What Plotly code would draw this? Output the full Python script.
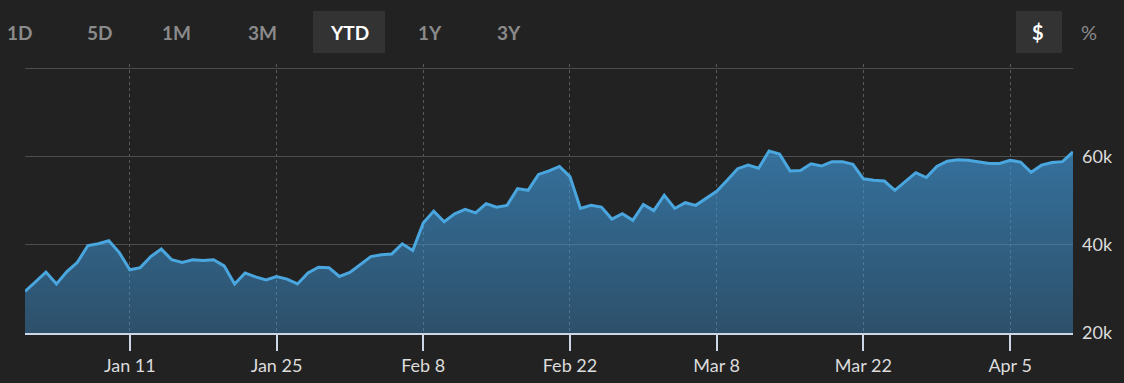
import plotly.graph_objects as go
import pandas as pd

# ---- data ----
dates = pd.date_range("2021-01-01", "2021-04-11", freq="D")
values_k = [
    29.4, 31.7, 33.8, 31.1, 33.9, 36.0, 39.8, 40.2, 40.9, 38.2,  # Jan 1-10
    34.3, 34.8, 37.3, 39.0, 36.6, 36.0, 36.6, 36.4, 36.6, 35.2,  # Jan 11-20
    31.1, 33.6, 32.7, 32.0, 32.8, 32.2, 31.1, 33.6, 34.9, 34.8,  # Jan 21-30
    32.8,                                                        # Jan 31
    33.7, 35.6, 37.3, 37.7, 37.9, 40.2, 38.7, 44.9, 47.6, 45.2,  # Feb 1-10
    47.0, 48.0, 47.2, 49.3, 48.5, 48.9, 52.7, 52.3, 55.9, 56.7,  # Feb 11-20
    57.7, 55.4, 48.2, 48.9, 48.5, 45.8, 47.0, 45.5,              # Feb 21-28
    49.1, 47.7, 51.2, 48.2, 49.5, 48.9, 50.4, 52.1, 54.6, 57.2,  # Mar 1-10
    58.0, 57.3, 61.2, 60.5, 56.7, 56.8, 58.3, 57.8, 58.8, 58.8,  # Mar 11-20
    58.2, 54.9, 54.6, 54.4, 52.3, 54.3, 56.3, 55.2, 57.7, 58.9,  # Mar 21-30
    59.2,                                                        # Mar 31
    59.1, 58.8, 58.4, 58.4, 59.1, 58.7, 56.4, 58.0, 58.6, 58.8,  # Apr 1-10
    61.0,                                                        # Apr 11
]
values = [v * 1000 for v in values_k]

x_tick_dates = pd.date_range("2021-01-11", "2021-04-05", freq="14D")
x_tick_labels = ["Jan 11", "Jan 25", "Feb 8", "Feb 22", "Mar 8", "Mar 22", "Apr 5"]
y_tick_vals = [20000, 40000, 60000, 80000]
y_tick_labels = ["20k", "40k", "60k", ""]

range_buttons = ["1D", "5D", "1M", "3M", "YTD", "1Y", "3Y"]
active_button = "YTD"
unit_buttons = ["$", "%"]
active_unit = "$"

# ---- layout geometry (pixels) ----
W, H = 1124, 383
L, R, T, B = 25, 1073, 64, 333
BG = "#222222"
Y_MIN = 20000
Y_MAX = 20000 + (B - T) * 60000 / 265


def px_x(px):
    return (px - L) / (R - L)


def px_y(py):
    return (B - py) / (B - T)


fig = go.Figure()
fig.add_trace(go.Scatter(
    x=dates, y=values, mode="lines",
    line=dict(color="#4aa6de", width=3),
    fill="tozeroy",
    fillgradient=dict(
        type="vertical",
        colorscale=[[0, "rgba(62,150,215,0.40)"], [1, "rgba(62,150,215,0.68)"]],
        start=20000, stop=61500,
    ),
    hoverinfo="x+y",
))

axis_font = "Lato, Open Sans, DejaVu Sans, sans-serif"

fig.update_layout(
    template="none",
    width=W, height=H, autosize=False,
    paper_bgcolor=BG, plot_bgcolor=BG,
    margin=dict(l=L, r=W - R, t=T, b=H - B, pad=0),
    showlegend=False,
    font=dict(family=axis_font, color="#d8d8d8", size=18),
    xaxis=dict(
        automargin=False,
        range=[dates[0], dates[-1]],
        tickvals=x_tick_dates, ticktext=x_tick_labels,
        ticks="outside", ticklen=16, tickwidth=1.5, tickcolor="#ccd6e6",
        showline=True, linecolor="#ccd6e6", linewidth=1.5,
        showgrid=True, gridcolor="#5a5a5a", griddash="dot", gridwidth=1,
        zeroline=False, fixedrange=True,
        tickfont=dict(size=18, color="#dcdcdc"),
    ),
    yaxis=dict(
        automargin=False,
        range=[Y_MIN, Y_MAX], side="right",
        tickvals=y_tick_vals, ticktext=y_tick_labels,
        showgrid=True, gridcolor="#4d4d4d", gridwidth=1,
        zeroline=False, showline=False, ticks="",
        ticklabelstandoff=8,
        tickfont=dict(size=18, color="#dcdcdc"),
        fixedrange=True,
    ),
)

# ---- range selector buttons (decorative) ----
btn_font = "Lato, Open Sans, DejaVu Sans, sans-serif"
btn_centers = [19, 99, 176, 262, 349, 430, 509]
for label, cx in zip(range_buttons, btn_centers):
    active = label == active_button
    if active:
        fig.add_shape(type="rect", xref="paper", yref="paper",
                      x0=px_x(313), x1=px_x(385), y0=px_y(53), y1=px_y(11),
                      fillcolor="#333333", line=dict(width=0), layer="below")
    fig.add_annotation(x=px_x(cx), y=px_y(32), xref="paper", yref="paper",
                       text="<b>%s</b>" % label, showarrow=False,
                       font=dict(size=19, color="#ffffff" if active else "#8a8a8a",
                                 family=btn_font),
                       xanchor="center", yanchor="middle")

unit_centers = [1038, 1089]
for label, cx in zip(unit_buttons, unit_centers):
    active = label == active_unit
    if active:
        fig.add_shape(type="rect", xref="paper", yref="paper",
                      x0=px_x(1016), x1=px_x(1062), y0=px_y(53), y1=px_y(11),
                      fillcolor="#333333", line=dict(width=0), layer="below")
    fig.add_annotation(x=px_x(cx), y=px_y(32), xref="paper", yref="paper",
                       text="<b>%s</b>" % label if active else label, showarrow=False,
                       font=dict(size=20, color="#ffffff" if active else "#8a8a8a",
                                 family=btn_font),
                       xanchor="center", yanchor="middle")

fig.write_html("out.html", config={"displayModeBar": False},
               post_script="document.body.style.margin='0';")
